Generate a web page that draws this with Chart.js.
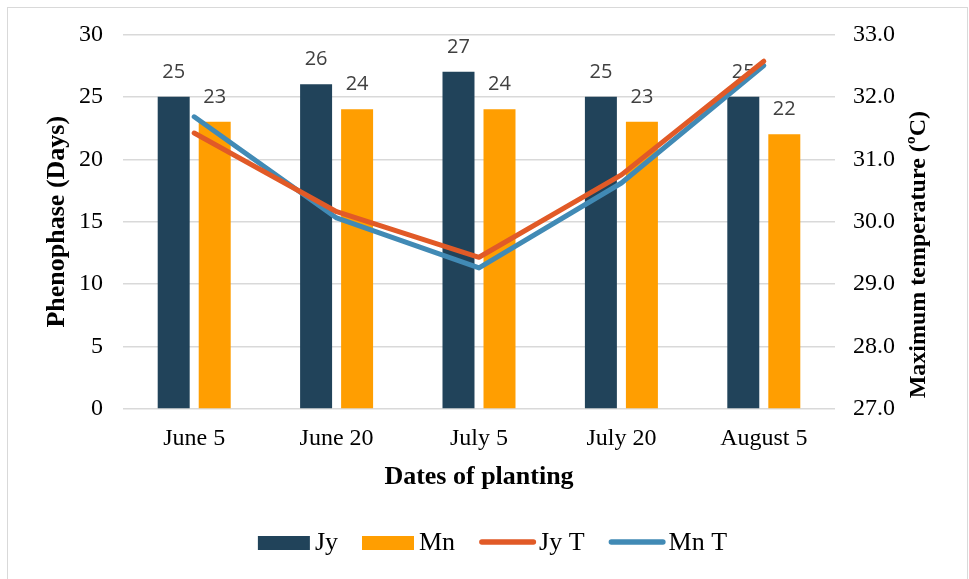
<!DOCTYPE html>
<html>
<head>
<meta charset="utf-8">
<script src="https://cdn.jsdelivr.net/npm/chart.js@4/dist/chart.umd.min.js"></script>
<style>
  html, body { margin: 0; padding: 0; background: #ffffff; }
  #wrap { position: absolute; left: 0; top: 0; width: 969px; height: 579px; }
  #frame { position: absolute; left: 7px; top: 7px; width: 961px; height: 580px; border: 1px solid #d9d9d9; box-sizing: border-box; pointer-events: none; }
</style>
</head>
<body>
<div id="wrap"><canvas id="c" width="969" height="579"></canvas></div>
<div id="frame"></div>
<script>
const categories = ["June 5", "June 20", "July 5", "July 20", "August 5"];
const jyDays = [25, 26, 27, 25, 25];
const mnDays = [23, 24, 24, 23, 22];
const jyTemp = [31.42, 30.16, 29.43, 30.75, 32.57];
const mnTemp = [31.68, 30.06, 29.26, 30.62, 32.50];
const leftTicks = [0, 5, 10, 15, 20, 25, 30];
const rightTicks = [27, 28, 29, 30, 31, 32, 33];

const serif = "'Liberation Serif', 'Times New Roman', serif";
const rightTitle = 'Maximum temperature (\u00BAC)';

const barLabels = {
  id: 'barLabels',
  afterDatasetDraw(chart, args) {
    const ds = chart.data.datasets[args.index];
    if (ds.type !== 'bar') return;
    const ctx = chart.ctx;
    ctx.save();
    ctx.font = "20px 'Open Sans', sans-serif";
    ctx.fillStyle = '#404040';
    ctx.textAlign = 'center';
    ctx.textBaseline = 'middle';
    args.meta.data.forEach((el, i) => {
      ctx.fillText(String(ds.data[i]), el.x, el.y - 25);
    });
    ctx.restore();
  }
};

const extras = {
  id: 'extras',
  afterDraw(chart) {
    const ctx = chart.ctx;
    const area = chart.chartArea;
    // right axis title, reading bottom to top
    ctx.save();
    ctx.font = "bold 24px " + serif;
    ctx.fillStyle = '#000000';
    ctx.textAlign = 'center';
    ctx.textBaseline = 'middle';
    ctx.translate(chart.scales.y1.right - 50, area.top + (area.bottom - area.top) * 0.588);
    ctx.rotate(-Math.PI / 2);
    ctx.fillText(rightTitle, 0, 0);
    ctx.restore();

    // legend
    ctx.save();
    ctx.font = "26px " + serif;
    ctx.textBaseline = 'middle';
    ctx.textAlign = 'left';
    const items = chart.data.datasets.map(ds => ({
      text: ds.label,
      isBar: ds.type === 'bar',
      color: ds.type === 'bar' ? ds.backgroundColor : ds.borderColor
    }));
    const gap = 24;
    let total = 0;
    items.forEach((it, i) => {
      it.sym = it.isBar ? 52 : 57;
      it.tgap = it.isBar ? 5 : 3;
      it.tw = ctx.measureText(it.text).width;
      total += it.sym + it.tgap + it.tw + (i ? gap : 0);
    });
    const cy = chart.height - 36;
    let x = 492.5 - total / 2;
    items.forEach(it => {
      if (it.isBar) {
        ctx.fillStyle = it.color;
        ctx.fillRect(x, cy - 7, 52, 14);
      } else {
        ctx.strokeStyle = it.color;
        ctx.lineWidth = 5.5;
        ctx.lineCap = 'round';
        ctx.beginPath();
        ctx.moveTo(x + 2.75, cy - 1);
        ctx.lineTo(x + 57 - 2.75, cy - 1);
        ctx.stroke();
      }
      x += it.sym + it.tgap;
      ctx.fillStyle = '#000000';
      ctx.fillText(it.text, x, cy);
      x += it.tw + gap;
    });
    ctx.restore();
  }
};

new Chart(document.getElementById('c'), {
  data: {
    labels: categories,
    datasets: [
      { type: 'bar', label: 'Jy', data: jyDays, backgroundColor: '#21435a', yAxisID: 'y', order: 2,
        barPercentage: 0.78, categoryPercentage: 0.576 },
      { type: 'bar', label: 'Mn', data: mnDays, backgroundColor: '#ff9e01', yAxisID: 'y', order: 2,
        barPercentage: 0.78, categoryPercentage: 0.576 },
      { type: 'line', label: 'Jy T', data: jyTemp, borderColor: '#e15a27', backgroundColor: '#e15a27',
        borderWidth: 5, pointRadius: 0, tension: 0, borderCapStyle: 'round', borderJoinStyle: 'round', yAxisID: 'y1', order: 1 },
      { type: 'line', label: 'Mn T', data: mnTemp, borderColor: '#418ab5', backgroundColor: '#418ab5',
        borderWidth: 5, pointRadius: 0, tension: 0, borderCapStyle: 'round', borderJoinStyle: 'round', yAxisID: 'y1', order: 1 }
    ]
  },
  options: {
    responsive: false,
    animation: false,
    devicePixelRatio: 1,
    layout: { padding: { top: 25, left: 0, right: 0, bottom: 86 } },
    plugins: {
      tooltip: { enabled: false },
      legend: { display: false }
    },
    scales: {
      x: {
        grid: { display: false, drawTicks: false },
        border: { display: false },
        ticks: { font: { family: serif, size: 24 }, color: '#000000', padding: 15, maxRotation: 0 },
        title: { display: true, text: 'Dates of planting', font: { family: serif, size: 26, weight: 'bold' }, color: '#000000', padding: { top: 0, bottom: 0 } },
        afterFit(s) { s.height = 84; }
      },
      y: {
        position: 'left',
        min: 0, max: 30,
        afterBuildTicks(axis) { axis.ticks = leftTicks.map(v => ({ value: v })); },
        grid: { color: '#d9d9d9', lineWidth: 1.5, drawTicks: false },
        border: { display: false },
        ticks: { font: { family: serif, size: 24 }, color: '#000000', padding: 20 },
        title: { display: true, text: 'Phenophase (Days)', font: { family: serif, size: 26, weight: 'bold' }, color: '#000000', padding: { top: 42, bottom: 0 } },
        afterFit(s) { s.width = 123; }
      },
      y1: {
        position: 'right',
        min: 27, max: 33,
        afterBuildTicks(axis) { axis.ticks = rightTicks.map(v => ({ value: v })); },
        grid: { drawOnChartArea: false, drawTicks: false },
        border: { display: false },
        ticks: { font: { family: serif, size: 24 }, color: '#000000', padding: 18, callback: v => Number(v).toFixed(1) },
        title: { display: false },
        afterFit(s) { s.width = 134; }
      }
    }
  },
  plugins: [barLabels, extras]
});
</script>
</body>
</html>
